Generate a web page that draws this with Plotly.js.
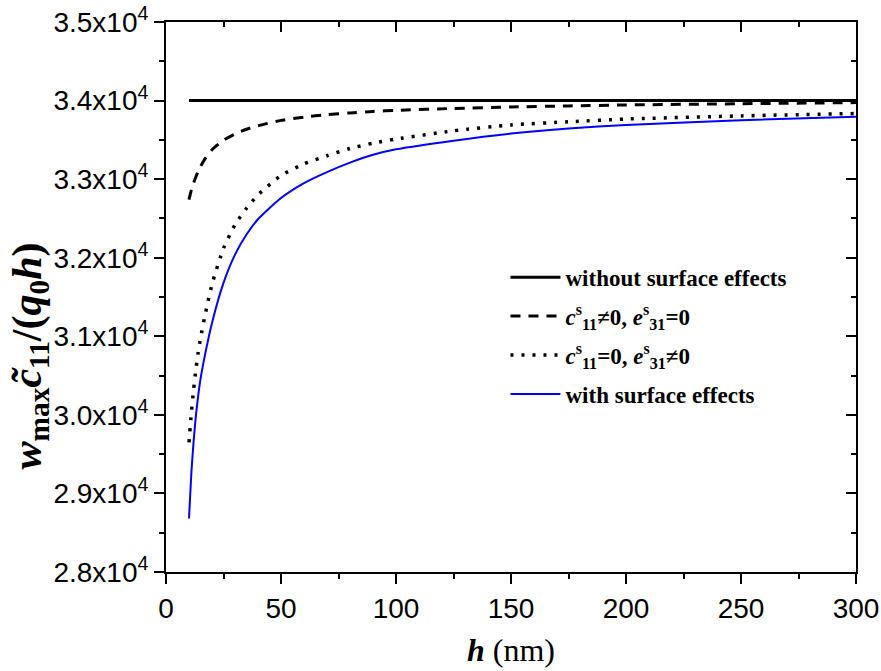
<!DOCTYPE html>
<html>
<head>
<meta charset="utf-8">
<script src="https://cdn.plot.ly/plotly-3.0.1.min.js"></script>
<style>html,body{margin:0;padding:0;background:#fff;}#chart{width:881px;height:671px;}</style>
</head>
<body>
<div id="chart"></div>
<script>
const h = [10, 11, 12, 13, 14, 15, 17, 20, 25, 30, 35, 40, 50, 60, 70, 80, 90, 100, 125, 150, 175, 200, 250, 300];
const withoutSurface = [34000, 34000, 34000, 34000, 34000, 34000, 34000, 34000, 34000, 34000, 34000, 34000, 34000, 34000, 34000, 34000, 34000, 34000, 34000, 34000, 34000, 34000, 34000, 34000];
const c11Only = [32740, 32860, 32950, 33030, 33100, 33160, 33260, 33375, 33495, 33575, 33635, 33680, 33748, 33790, 33820, 33843, 33862, 33876, 33900, 33918, 33932, 33944, 33960, 33974];
const e31Only = [29650, 30020, 30320, 30580, 30795, 30975, 31270, 31660, 32120, 32420, 32630, 32800, 33045, 33195, 33298, 33390, 33458, 33510, 33615, 33690, 33730, 33765, 33805, 33835];
const withSurface = [28680, 29250, 29660, 29990, 30245, 30455, 30770, 31170, 31680, 32040, 32295, 32490, 32760, 32950, 33090, 33210, 33310, 33380, 33490, 33580, 33645, 33690, 33750, 33795];
const seriesNames = [
  'without surface effects',
  '<i>c</i><sup>s</sup><sub>11</sub>≠0, <i>e</i><sup>s</sup><sub>31</sub>=0',
  '<i>c</i><sup>s</sup><sub>11</sub>=0, <i>e</i><sup>s</sup><sub>31</sub>≠0',
  'with surface effects'
];
const yTickVals = [28000, 29000, 30000, 31000, 32000, 33000, 34000, 35000];
const yTickText = ['2.8x10<sup>4</sup>', '2.9x10<sup>4</sup>', '3.0x10<sup>4</sup>', '3.1x10<sup>4</sup>', '3.2x10<sup>4</sup>', '3.3x10<sup>4</sup>', '3.4x10<sup>4</sup>', '3.5x10<sup>4</sup>'];
const xTickVals = [0, 50, 100, 150, 200, 250, 300];
const yTitle = '<i>w</i><sub>max</sub><i>c\u0303</i><sub>11</sub>/(<i>q</i><sub>0</sub><i>h</i>)';

const traces = [
  {x: h, y: withoutSurface, name: seriesNames[0], legendgroup: 'a', mode: 'lines', line: {color: '#000', width: 3}},
  {x: h, y: c11Only, name: seriesNames[1], legendgroup: 'b', mode: 'lines', line: {color: '#000', width: 3, dash: '10px,8px', shape: 'spline', smoothing: 0.6}},
  {x: h, y: e31Only, name: seriesNames[2], legendgroup: 'c', mode: 'lines', line: {color: '#000', width: 3.5, dash: '3px,8px', shape: 'spline', smoothing: 0.6}},
  {x: h, y: withSurface, name: seriesNames[3], legendgroup: 'd', mode: 'lines', line: {color: '#0000ff', width: 2, shape: 'spline', smoothing: 0.6}},
  {x: [0], y: [28000], xaxis: 'x2', yaxis: 'y2', mode: 'markers', marker: {opacity: 0}, showlegend: false, hoverinfo: 'skip'}
];

const axisFont = {family: 'Liberation Sans Narrow, Arial Narrow, Liberation Sans, sans-serif', size: 28, color: '#000'};
const layout = {
  width: 881, height: 671,
  margin: {l: 166, r: 25, t: 22, b: 99},
  paper_bgcolor: '#fff', plot_bgcolor: '#fff',
  showlegend: true,
  legend: {x: 0.492, y: 0.575, xanchor: 'left', yanchor: 'top', bgcolor: 'rgba(0,0,0,0)', tracegroupgap: 6,
    font: {family: 'Liberation Serif, Times New Roman, serif', size: 23, color: '#000', weight: 'bold'}, itemwidth: 50},
  xaxis: {
    range: [0, 300], tickvals: xTickVals, ticks: 'outside', ticklen: 10, tickwidth: 2, tickcolor: '#000',
    showline: true, linewidth: 2, linecolor: '#000', showgrid: false, zeroline: false,
    tickfont: axisFont,
    minor: {dtick: 25, ticks: 'outside', ticklen: 5, tickwidth: 2, tickcolor: '#000', showgrid: false},
    title: {text: '<b><i>h</i></b> (nm)', font: {family: 'Liberation Serif, Times New Roman, serif', size: 32, color: '#000'}, standoff: 16}
  },
  yaxis: {
    range: [28000, 35000], tickvals: yTickVals, ticktext: yTickText, ticks: 'outside', ticklen: 10, tickwidth: 2, tickcolor: '#000',
    showline: true, linewidth: 2, linecolor: '#000', showgrid: false, zeroline: false,
    tickfont: axisFont,
    minor: {dtick: 500, ticks: 'outside', ticklen: 5, tickwidth: 2, tickcolor: '#000', showgrid: false}
  },
  xaxis2: {
    overlaying: 'x', side: 'top', range: [0, 300], tickvals: xTickVals, ticks: 'inside', ticklen: 10, tickwidth: 2, tickcolor: '#000',
    showticklabels: false, showline: true, linewidth: 2, linecolor: '#000', showgrid: false, zeroline: false,
    minor: {dtick: 25, ticks: 'inside', ticklen: 5, tickwidth: 2, tickcolor: '#000', showgrid: false}
  },
  yaxis2: {
    overlaying: 'y', side: 'right', range: [28000, 35000], tickvals: yTickVals, ticks: 'inside', ticklen: 10, tickwidth: 2, tickcolor: '#000',
    showticklabels: false, showline: true, linewidth: 2, linecolor: '#000', showgrid: false, zeroline: false,
    minor: {dtick: 500, ticks: 'inside', ticklen: 5, tickwidth: 2, tickcolor: '#000', showgrid: false}
  },
  annotations: [{
    text: yTitle, xref: 'paper', yref: 'paper', x: -0.197, y: 0.392, xanchor: 'center', yanchor: 'middle',
    textangle: -90, showarrow: false,
    font: {family: 'Liberation Serif, Times New Roman, serif', size: 42, color: '#000', weight: 'bold'}
  }]
};
Plotly.newPlot('chart', traces, layout, {staticPlot: true, displayModeBar: false});
</script>
</body>
</html>
